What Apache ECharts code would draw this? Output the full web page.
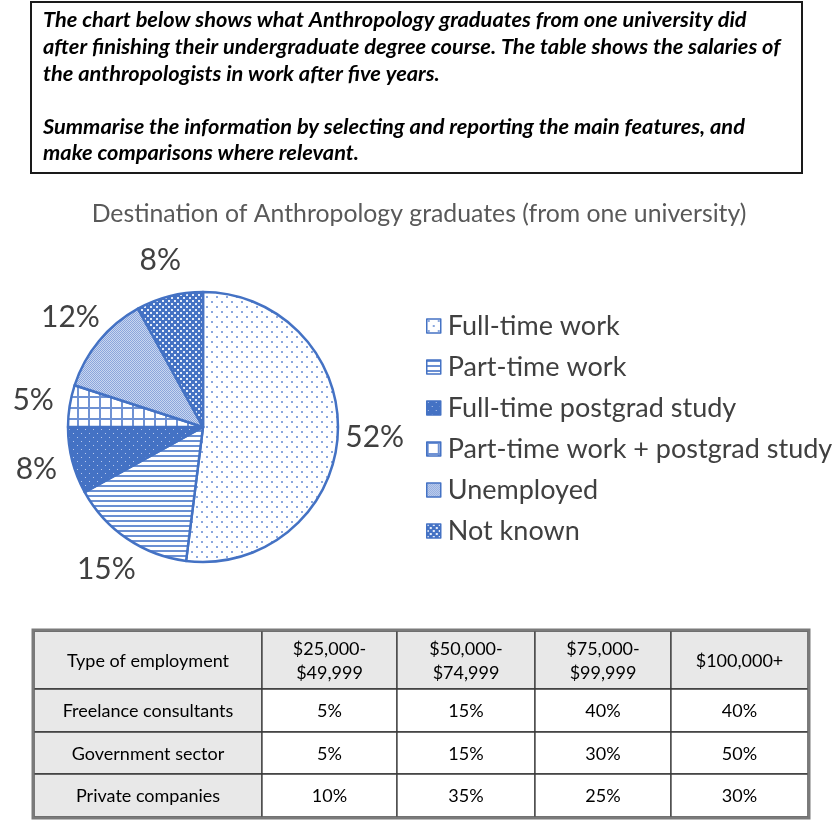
<!DOCTYPE html>
<html>
<head>
<meta charset="utf-8">
<script src="https://cdn.jsdelivr.net/npm/echarts@6/dist/echarts.min.js"></script>
<style>
html,body{margin:0;padding:0;background:#fff;}
#chart{width:838px;height:822px;}
</style>
</head>
<body>
<div id="chart"></div>
<script>
// ---- data ----
const taskLines = [
  'The chart below shows what Anthropology graduates from one university did',
  'after finishing their undergraduate degree course. The table shows the salaries of',
  'the anthropologists in work after five years.',
  '',
  'Summarise the information by selecting and reporting the main features, and',
  'make comparisons where relevant.'
];
const pieTitle = 'Destination of Anthropology graduates (from one university)';
const destinations = ['Full-time work', 'Part-time work', 'Full-time postgrad study', 'Part-time work + postgrad study', 'Unemployed', 'Not known'];
const destinationShares = [52, 15, 8, 5, 12, 8];

const tableHeader = ['Type of employment', '$25,000-\n$49,999', '$50,000-\n$74,999', '$75,000-\n$99,999', '$100,000+'];
const employmentTypes = ['Freelance consultants', 'Government sector', 'Private companies'];
const freelanceShares = [5, 15, 40, 40];
const governmentShares = [5, 15, 30, 50];
const privateShares = [10, 35, 25, 30];
const salaryRows = [freelanceShares, governmentShares, privateShares];

// ---- patterns ----
const BLUE = '#4472C4';
function makePattern(w, h, draw) {
  const c = document.createElement('canvas');
  c.width = w; c.height = h;
  const ctx = c.getContext('2d');
  draw(ctx, w, h);
  return { image: c, repeat: 'repeat' };
}
const patterns = [
  // full-time work: white with blue dots
  makePattern(10, 10, (ctx) => {
    ctx.fillStyle = '#fff'; ctx.fillRect(0, 0, 10, 10);
    ctx.fillStyle = '#8aa7de';
    ctx.fillRect(1, 1, 2, 2); ctx.fillRect(6, 6, 2, 2);
  }),
  // part-time work: horizontal lines
  makePattern(4, 5, (ctx) => {
    ctx.fillStyle = '#fff'; ctx.fillRect(0, 0, 4, 5);
    ctx.fillStyle = '#6a8fd3'; ctx.fillRect(0, 0, 4, 2);
  }),
  // full-time postgrad: blue with white dots
  makePattern(8, 8, (ctx) => {
    ctx.fillStyle = BLUE; ctx.fillRect(0, 0, 8, 8);
    ctx.fillStyle = '#b9c9ec';
    ctx.fillRect(1, 1, 1, 1); ctx.fillRect(5, 5, 1, 1);
  }),
  // part-time + postgrad: grid
  makePattern(11, 11, (ctx) => {
    ctx.fillStyle = '#fff'; ctx.fillRect(0, 0, 11, 11);
    ctx.fillStyle = '#6f92d4';
    ctx.fillRect(0, 0, 11, 2); ctx.fillRect(0, 0, 2, 11);
  }),
  // unemployed: fine light checker
  makePattern(2, 2, (ctx) => {
    ctx.fillStyle = '#c9d6f0'; ctx.fillRect(0, 0, 2, 2);
    ctx.fillStyle = '#8ba6dc';
    ctx.fillRect(0, 0, 1, 1); ctx.fillRect(1, 1, 1, 1);
  }),
  // not known: blue with white dashes
  makePattern(6, 6, (ctx) => {
    ctx.fillStyle = BLUE; ctx.fillRect(0, 0, 6, 6);
    ctx.fillStyle = '#e4ebf8';
    ctx.fillRect(0, 0, 2, 2); ctx.fillRect(3, 3, 2, 2);
  })
];

const pieData = destinations.map((name, i) => ({
  name: name,
  value: destinationShares[i],
  itemStyle: { color: patterns[i] }
}));
const labelData = destinations.map((name, i) => ({ name: name, value: destinationShares[i] }));

// ---- table graphics ----
const colX = [34, 262, 397, 535, 671, 808];
const rowY = [631, 689, 732, 774, 817];
const tableFont = '18px Lato, Carlito, sans-serif';
const tableEls = [];
for (let r = 0; r < rowY.length - 1; r++) {
  for (let c = 0; c < colX.length - 1; c++) {
    const x = colX[c], y = rowY[r], w = colX[c + 1] - colX[c], h = rowY[r + 1] - rowY[r];
    const txt = r === 0 ? tableHeader[c] : (c === 0 ? employmentTypes[r - 1] : salaryRows[r - 1][c - 1] + '%');
    tableEls.push({
      type: 'rect',
      shape: { x: x, y: y, width: w, height: h },
      style: { fill: (r === 0 || c === 0) ? '#e8e8e8' : '#ffffff', stroke: '#3a3a3a', lineWidth: 1.3 }
    });
    tableEls.push({
      type: 'text',
      x: x + w / 2, y: y + h / 2 + 1,
      style: { text: txt, font: tableFont, fill: '#000', align: 'center', verticalAlign: 'middle', lineHeight: 24 }
    });
  }
}
tableEls.push({
  type: 'rect',
  shape: { x: colX[0] - 1, y: rowY[0] - 1, width: colX[5] - colX[0] + 2, height: rowY[4] - rowY[0] + 2 },
  style: { fill: 'none', stroke: '#7a7a7a', lineWidth: 3 }
});

const chart = echarts.init(document.getElementById('chart'), null, { renderer: 'canvas' });
chart.setOption({
  backgroundColor: '#fff',
  animation: false,
  title: {
    text: pieTitle,
    left: 'center',
    top: 197,
    textStyle: { fontFamily: 'Lato, Carlito, sans-serif', fontSize: 24.8, fontWeight: 'normal', color: '#595959' }
  },
  legend: {
    orient: 'vertical',
    left: 421,
    top: 306,
    itemWidth: 14,
    itemHeight: 14,
    itemGap: 11,
    icon: 'rect',
    data: destinations,
    textStyle: { fontFamily: 'Lato, Carlito, sans-serif', fontSize: 27, color: '#404040', lineHeight: 30, padding: [0, 0, 0, 2] },
    itemStyle: { borderColor: BLUE, borderWidth: 1.5 }
  },
  series: [
    {
      type: 'pie',
      center: [203, 427],
      radius: [0, 135],
      startAngle: 90,
      clockwise: true,
      silent: true,
      data: pieData,
      label: { show: false },
      labelLine: { show: false },
      itemStyle: { borderColor: BLUE, borderWidth: 2.5 }
    },
    {
      type: 'pie',
      center: [203, 427],
      radius: [150, 188],
      startAngle: 90,
      clockwise: true,
      silent: true,
      data: labelData,
      itemStyle: { color: 'rgba(0,0,0,0)', borderWidth: 0 },
      label: {
        show: true,
        position: 'inside',
        formatter: '{c}%',
        fontFamily: 'Lato, Carlito, sans-serif',
        fontSize: 30,
        color: '#404040'
      },
      labelLine: { show: false }
    }
  ],
  graphic: [
    {
      type: 'rect',
      shape: { x: 31, y: 2, width: 771, height: 171 },
      style: { fill: '#fff', stroke: '#1a1a1a', lineWidth: 2 }
    },
    {
      type: 'text',
      x: 43, y: 7,
      style: {
        text: taskLines.join('\n'),
        font: 'italic bold 21.8px Lato, Carlito, sans-serif',
        fill: '#000',
        lineHeight: 26.6
      }
    }
  ].concat(tableEls)
});
</script>
</body>
</html>
